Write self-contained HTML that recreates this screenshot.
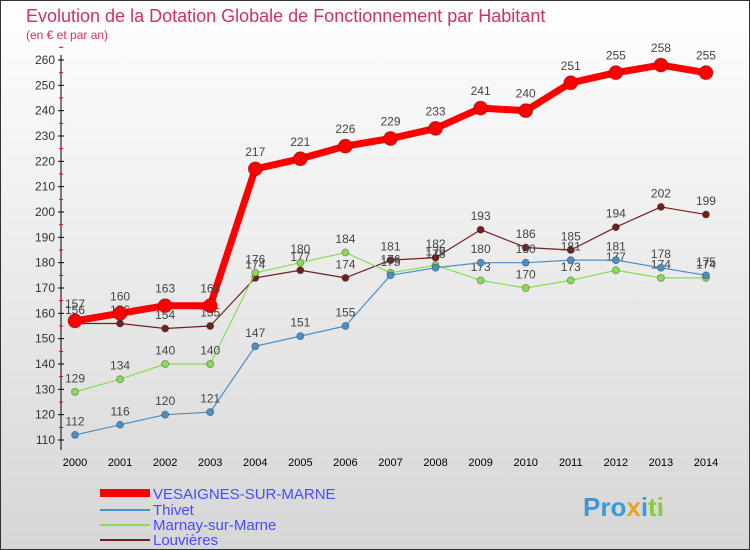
<!DOCTYPE html>
<html><head><meta charset="utf-8"><style>
body{margin:0;width:750px;height:550px;overflow:hidden;font-family:"Liberation Sans",sans-serif}
svg{display:block}
</style></head><body>
<svg id="chart" width="750" height="550" xmlns="http://www.w3.org/2000/svg">
<defs><linearGradient id="bg" x1="0" y1="0" x2="0" y2="1"><stop offset="0" stop-color="#ffffff"/><stop offset="1" stop-color="#d6d6d6"/></linearGradient></defs>
<rect x="0.5" y="0.5" width="749" height="549" fill="url(#bg)" stroke="#333"/>
<text x="26" y="22" font-size="18" fill="#d0306a">Evolution de la Dotation Globale de Fonctionnement par Habitant</text>
<text x="26" y="39" font-size="12" fill="#d0306a">(en € et par an)</text>
<g id="axes"></g><g id="series"></g>
<g>
<line x1="100" y1="493" x2="150" y2="493" stroke="#ff0000" stroke-width="8"/>
<text x="153" y="499" font-size="15" fill="#4a4aff">VESAIGNES-SUR-MARNE</text>
<line x1="100" y1="510" x2="150" y2="510" stroke="#4a90c8" stroke-width="2"/>
<text x="153" y="515" font-size="15" fill="#4a4aff">Thivet</text>
<line x1="100" y1="525" x2="150" y2="525" stroke="#88dd55" stroke-width="2"/>
<text x="153" y="530" font-size="15" fill="#4a4aff">Marnay-sur-Marne</text>
<line x1="100" y1="540" x2="150" y2="540" stroke="#702020" stroke-width="2"/>
<text x="153" y="545" font-size="15" fill="#4a4aff">Louvières</text>
</g>
<text x="583" y="516" font-size="26" font-weight="bold" fill="#3a9ad9">Pro<tspan fill="#f0a020">x</tspan>i<tspan fill="#88cc33">ti</tspan></text>
</svg>
<script>
const years=[2000,2001,2002,2003,2004,2005,2006,2007,2008,2009,2010,2011,2012,2013,2014];
const vesaignes=[157,160,163,163,217,221,226,229,233,241,240,251,255,258,255];
const thivet=[112,116,120,121,147,151,155,175,178,180,180,181,181,178,175];
const marnay=[129,134,140,140,176,180,184,176,179,173,170,173,177,174,174];
const louvieres=[156,156,154,155,174,177,174,181,182,193,186,185,194,202,199];
const yTicks=[110,120,130,140,150,160,170,180,190,200,210,220,230,240,250,260];
const NS="http://www.w3.org/2000/svg";
const X=i=>75+i*45.07, Y=v=>440-(v-110)*380/150;
function mk(t,a,p){const e=document.createElementNS(NS,t);for(const k in a)e.setAttribute(k,a[k]);p.appendChild(e);return e;}
const ax=document.getElementById('axes'), se=document.getElementById('series');
let l=mk('line',{x1:61,y1:55,x2:61,y2:450,stroke:'#000'},ax);


yTicks.forEach(v=>{mk('line',{x1:58,y1:Y(v),x2:64,y2:Y(v),stroke:'#000'},ax);
 mk('line',{x1:59,y1:Y(v+5),x2:63,y2:Y(v+5),stroke:'#f00'},ax);
 const t=mk('text',{x:55,y:Y(v)+4,'font-size':12,'text-anchor':'end',fill:'#333'},ax);t.textContent=v;
 
 });
years.forEach((y,i)=>{
 const t=mk('text',{x:X(i),y:466,'font-size':11,'text-anchor':'middle',fill:'#000'},ax);t.textContent=y;
 
 });
function draw(vals,color,w,r,name){const g=mk('g',{},se);
 
 
 mk('polyline',{points:vals.map((v,i)=>X(i)+','+Y(v)).join(' '),fill:'none',stroke:color,'stroke-width':w,'stroke-linejoin':'round'},g);
 vals.forEach((v,i)=>{const c=mk('circle',{cx:X(i),cy:Y(v),r:r,fill:color,stroke:'rgba(0,0,0,0.3)'},g);
  
  
  const t=mk('text',{x:X(i),y:Y(v)-r-6,'font-size':12,'text-anchor':'middle',fill:'#444'},g);t.textContent=v;
  
  });}
draw(louvieres,'#702020',1.2,3.5,'louvieres');
draw(marnay,'#88dd55',1.2,3.5,'marnay');
draw(thivet,'#4a90c8',1.2,3.5,'thivet');
draw(vesaignes,'#ff0000',7,7,'vesaignes');
</script>
</body></html>
